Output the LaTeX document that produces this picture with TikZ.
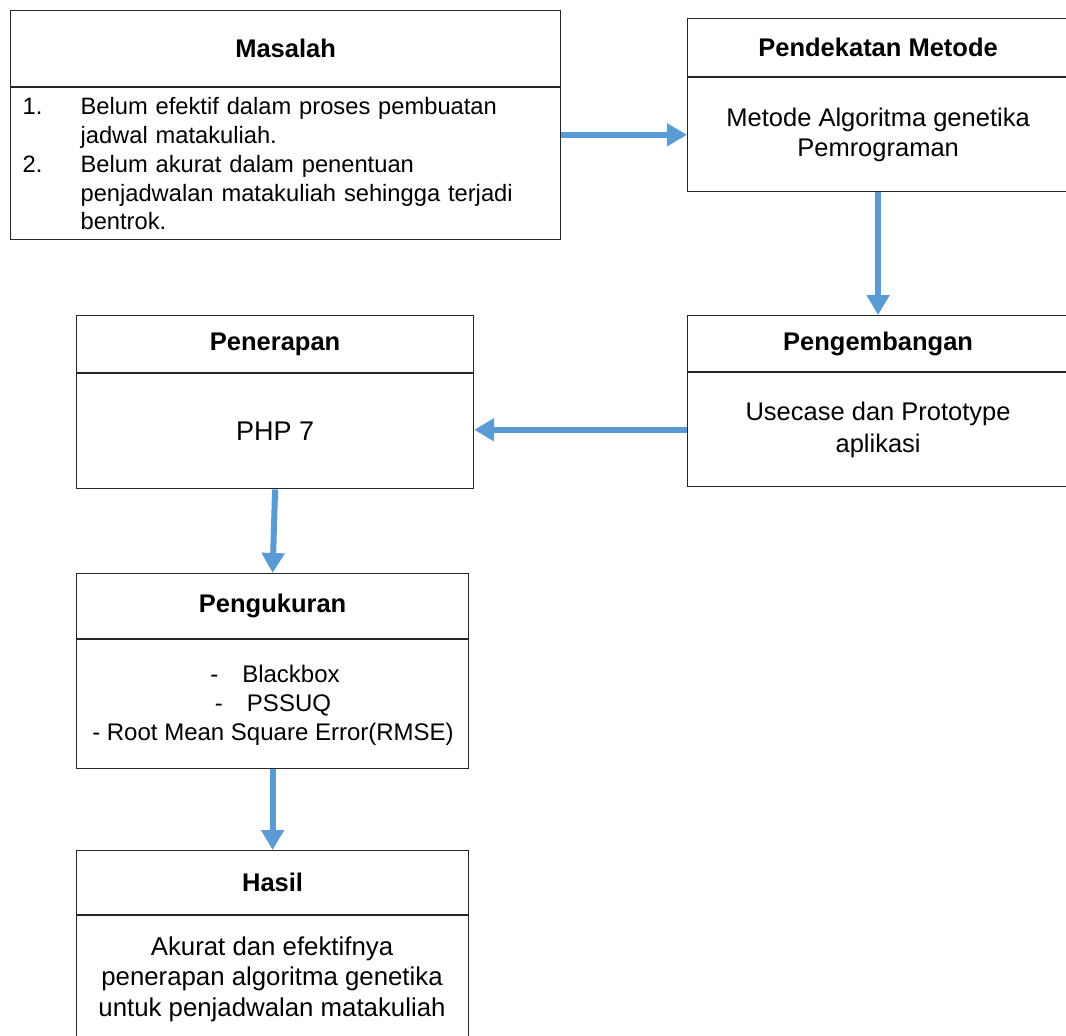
\documentclass[tikz,border=0pt]{standalone}
\usepackage{fontspec}
\setmainfont{Liberation Sans}
\usetikzlibrary{arrows.meta,calc}
\definecolor{arrowblue}{HTML}{5B9BD5}
\begin{document}
\begin{tikzpicture}[x=1pt,y=-1pt,
  boxpart/.style={draw=black!85,line width=1.2pt,rectangle,inner sep=0pt,anchor=north west,
    font=\fontsize{25.5}{30}\selectfont,align=center},
  titlebox/.style={boxpart,font=\fontsize{25.5}{30}\selectfont\bfseries},
  flow/.style={draw=arrowblue,line width=6pt,-{Triangle[length=20pt,width=22pt]}}]
\path[use as bounding box,clip] (0,0) rectangle (1066,1036);
\fill[white] (0,0) rectangle (1066,1036);

% Masalah
\node[titlebox,minimum width=550pt,minimum height=76pt] (masT) at (10,10) {Masalah};
\node[boxpart,minimum width=550pt,minimum height=152pt,align=left,text width=526pt,inner xsep=12pt,
  font=\fontsize{23.7}{28.8}\selectfont]
  (masB) at (masT.south west)
  {\makebox[58pt][l]{1.}Belum efektif dalam proses pembuatan\\
   \hspace*{58pt}jadwal matakuliah.\\
   \makebox[58pt][l]{2.}Belum akurat dalam penentuan\\
   \hspace*{58pt}penjadwalan matakuliah sehingga terjadi\\
   \hspace*{58pt}bentrok.};

% Pendekatan Metode
\node[titlebox,minimum width=381pt,minimum height=58pt] (pendT) at (687,18) {Pendekatan Metode};
\node[boxpart,minimum width=381pt,minimum height=114pt] (pendB) at (pendT.south west)
  {Metode Algoritma genetika\\Pemrograman};

% Pengembangan
\node[titlebox,minimum width=381pt,minimum height=56pt] (pengT) at (687,315) {Pengembangan};
\node[boxpart,minimum width=381pt,minimum height=114pt,font=\fontsize{25.5}{32}\selectfont]
  (pengB) at (pengT.south west)
  {Usecase dan Prototype\\aplikasi};

% Penerapan
\node[titlebox,minimum width=397pt,minimum height=57pt] (penT) at (76,315) {Penerapan};
\node[boxpart,minimum width=397pt,minimum height=115pt,font=\fontsize{27}{30}\selectfont]
  (penB) at (penT.south west) {PHP 7};

% Pengukuran
\node[titlebox,minimum width=392pt,minimum height=65pt] (ukurT) at (76,573) {Pengukuran};
\node[boxpart,minimum width=392pt,minimum height=129pt] (ukurB) at (ukurT.south west) {};
\node[font=\fontsize{24}{29}\selectfont,align=center,inner sep=0pt] (ukurTx) at (273,705)
  {\hspace*{4pt}-\hspace{24pt}Blackbox\\\hspace*{0pt}-\hspace{24pt}PSSUQ\\- Root Mean Square Error(RMSE)};

% Hasil
\node[titlebox,minimum width=392pt,minimum height=64pt] (hasT) at (76,850) {Hasil};
\node[boxpart,minimum width=392pt,minimum height=150pt] (hasB) at (hasT.south west) {};
\node[font=\fontsize{25.8}{30.5}\selectfont,align=center,inner sep=0pt] (hasTx) at (272,979)
  {Akurat dan efektifnya\\penerapan algoritma genetika\\untuk penjadwalan matakuliah};

% Arrows
\draw[flow] (masB.east |- pendB.west) -- (pendB.west);
\draw[flow] (pendB.south) -- (pengT.north);
\draw[flow] (pengB.west) -- (pengB.west -| penB.east);
\draw[flow] (penB.south) -- (ukurT.north);
\draw[flow] (ukurB.south) -- (hasT.north);
\end{tikzpicture}
\end{document}
